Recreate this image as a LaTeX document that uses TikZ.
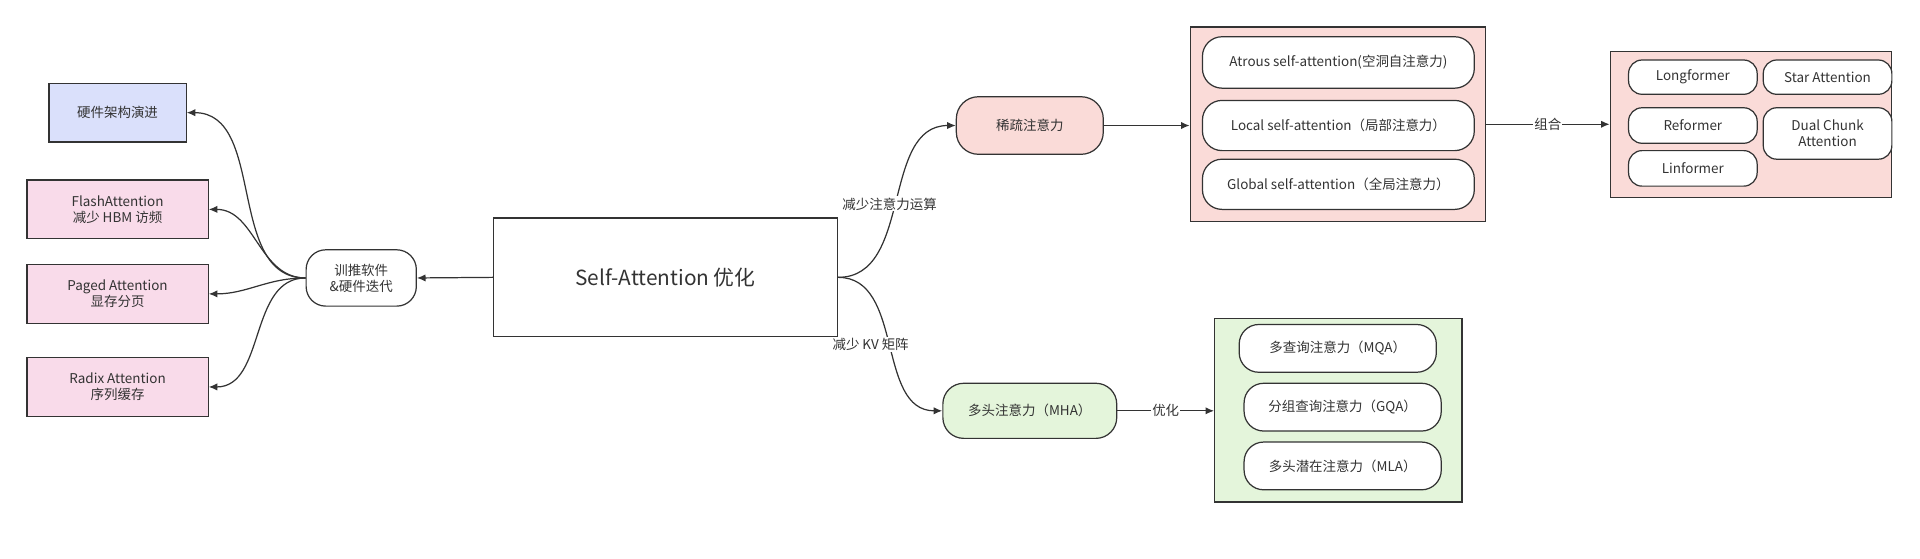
\documentclass[tikz,border=0pt]{standalone}
\usepackage{fontspec}
\setmainfont{Noto Sans CJK SC}
\usetikzlibrary{arrows.meta}
\definecolor{lav}{HTML}{DAE0FB}
\definecolor{pk}{HTML}{F9DBEA}
\definecolor{rd}{HTML}{FADBD8}
\definecolor{gr}{HTML}{E4F5DB}
\definecolor{ln}{HTML}{333333}
\begin{document}
\begin{tikzpicture}[x=1pt,y=-1pt,
  every node/.style={font=\fontsize{11}{13}\selectfont, text=ln, align=center, inner sep=0pt},
  sq/.style={draw=ln, line width=1pt, minimum width=#1},
  rb/.style={draw=ln, line width=1pt, rounded corners=11pt, fill=white},
  arr/.style={draw=ln, line width=1pt, -{Latex[length=7pt,width=6pt]}},
  lbl/.style={fill=white, inner sep=1pt}]
\useasboundingbox (0,0) rectangle (1568,456);
% left
\node[sq=112pt, minimum height=48pt, fill=lav] (hw) at (96,92) {硬件架构演进};
\node[sq=148pt, minimum height=48pt, fill=pk] (fa) at (96,171) {FlashAttention\\减少 HBM 访频};
\node[sq=148pt, minimum height=48pt, fill=pk] (pa) at (96,240) {Paged Attention\\显存分页};
\node[sq=148pt, minimum height=48pt, fill=pk] (ra) at (96,316) {Radix Attention\\序列缓存};
\node[rb, minimum width=90pt, minimum height=46pt, rounded corners=16pt] (sw) at (295,227) {训推软件\\\&硬件迭代};
\node[sq=281pt, minimum height=97pt, fill=white, font=\fontsize{17}{20}\selectfont] (main) at (543.5,226.5) {Self-Attention 优化};
% sparse
\node[rb, fill=rd, minimum width=120pt, minimum height=47pt, rounded corners=18pt] (sp) at (841,102.5) {稀疏注意力};
\node[sq=241pt, minimum height=159pt, fill=rd] (b1) at (1092.5,101.5) {};
\node[rb, minimum width=222pt, minimum height=42pt, rounded corners=16pt] at (1093,51) {Atrous self-attention(空洞自注意力)};
\node[rb, minimum width=222pt, minimum height=41pt, rounded corners=16pt] at (1093,102.5) {Local self-attention（局部注意力）};
\node[rb, minimum width=222pt, minimum height=41pt, rounded corners=16pt] at (1093,150.5) {Global self-attention（全局注意力）};
\node[sq=230pt, minimum height=119pt, fill=rd] (b2) at (1430,101.5) {};
\node[rb, minimum width=105pt, minimum height=28pt] at (1382.5,63) {Longformer};
\node[rb, minimum width=105pt, minimum height=28pt] at (1492.5,63) {Star Attention};
\node[rb, minimum width=105pt, minimum height=29pt] at (1382.5,102.5) {Reformer};
\node[rb, minimum width=105pt, minimum height=42pt] at (1492.5,109) {Dual Chunk\\Attention};
\node[rb, minimum width=105pt, minimum height=29pt] at (1382.5,137.5) {Linformer};
% MHA
\node[rb, fill=gr, minimum width=142pt, minimum height=45pt, rounded corners=17pt] (mha) at (841,335.5) {多头注意力（MHA）};
\node[sq=202pt, minimum height=150pt, fill=gr] (b3) at (1093,335) {};
\node[rb, minimum width=161pt, minimum height=39pt, rounded corners=16pt] at (1092.5,284.5) {多查询注意力（MQA）};
\node[rb, minimum width=161pt, minimum height=39pt, rounded corners=16pt] at (1096.5,332.5) {分组查询注意力（GQA）};
\node[rb, minimum width=161pt, minimum height=39pt, rounded corners=16pt] at (1096.5,380.5) {多头潜在注意力（MLA）};
% edges
\draw[arr] (main.west) -- (sw.east);
\draw[arr] (sw.west) to[out=180,in=0] (hw.east);
\draw[arr] (sw.west) to[out=180,in=0] (fa.east);
\draw[arr] (sw.west) to[out=180,in=0] (pa.east);
\draw[arr] (sw.west) to[out=180,in=0] (ra.east);
\draw[arr] (main.east) to[out=0,in=180] node[pos=0.5,lbl,xshift=-6pt,yshift=-2pt]{减少注意力运算} (sp.west);
\draw[arr] (main.east) to[out=0,in=180] node[pos=0.5,lbl,xshift=-16pt,yshift=0pt]{减少 KV 矩阵} (mha.west);
\draw[arr] (sp.east) -- (b1.west |- sp.east);
\draw[arr] (b1.east) -- node[lbl]{组合} (b2.west);
\draw[arr] (mha.east) -- node[lbl]{优化} (b3.west |- mha.east);
\end{tikzpicture}
\end{document}
